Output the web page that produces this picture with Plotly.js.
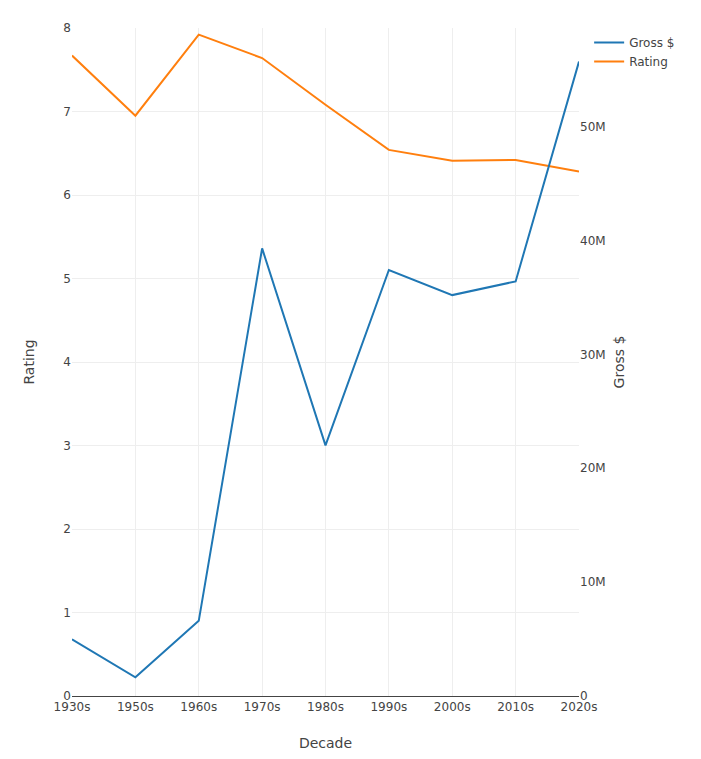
<!DOCTYPE html>
<html>
<head>
<meta charset="utf-8">
<script src="https://cdn.plot.ly/plotly-3.0.1.min.js"></script>
<style>html,body{margin:0;padding:0;background:#fff;}#chart{width:701px;height:759px;}</style>
</head>
<body>
<div id="chart"></div>
<script>
const decades = ["1930s","1950s","1960s","1970s","1980s","1990s","2000s","2010s","2020s"];
const grossValues = [4.98e6, 1.64e6, 6.6e6, 39.3e6, 22.0e6, 37.4e6, 35.2e6, 36.4e6, 55.7e6];
const ratingValues = [7.67, 6.95, 7.92, 7.64, 7.08, 6.54, 6.41, 6.42, 6.28];

const traces = [
  {x: decades, y: grossValues, name: "Gross $", type: "scatter", mode: "lines", yaxis: "y2",
   line: {color: "#1f77b4", width: 2}},
  {x: decades, y: ratingValues, name: "Rating", type: "scatter", mode: "lines", yaxis: "y",
   line: {color: "#ff7f0e", width: 2}}
];

const layout = {
  width: 701, height: 759,
  font: {family: "Verdana, 'DejaVu Sans', sans-serif", size: 12, color: "#444"},
  margin: {l: 72, r: 122, t: 28, b: 63},
  paper_bgcolor: "#fff", plot_bgcolor: "#fff",
  showlegend: true,
  legend: {x: 1.02, y: 1, xanchor: "left", yanchor: "top"},
  xaxis: {title: {text: "Decade"}, type: "category", showline: true, linecolor: "#444",
          gridcolor: "#eee", ticks: ""},
  yaxis: {title: {text: "Rating"}, range: [0, 8], dtick: 1, gridcolor: "#eee", zeroline: false},
  yaxis2: {title: {text: "Gross $"}, overlaying: "y", side: "right", range: [0, 58.65e6],
           showgrid: false, zeroline: false, dtick: 10e6}
};

Plotly.newPlot("chart", traces, layout, {displayModeBar: false});
</script>
</body>
</html>
